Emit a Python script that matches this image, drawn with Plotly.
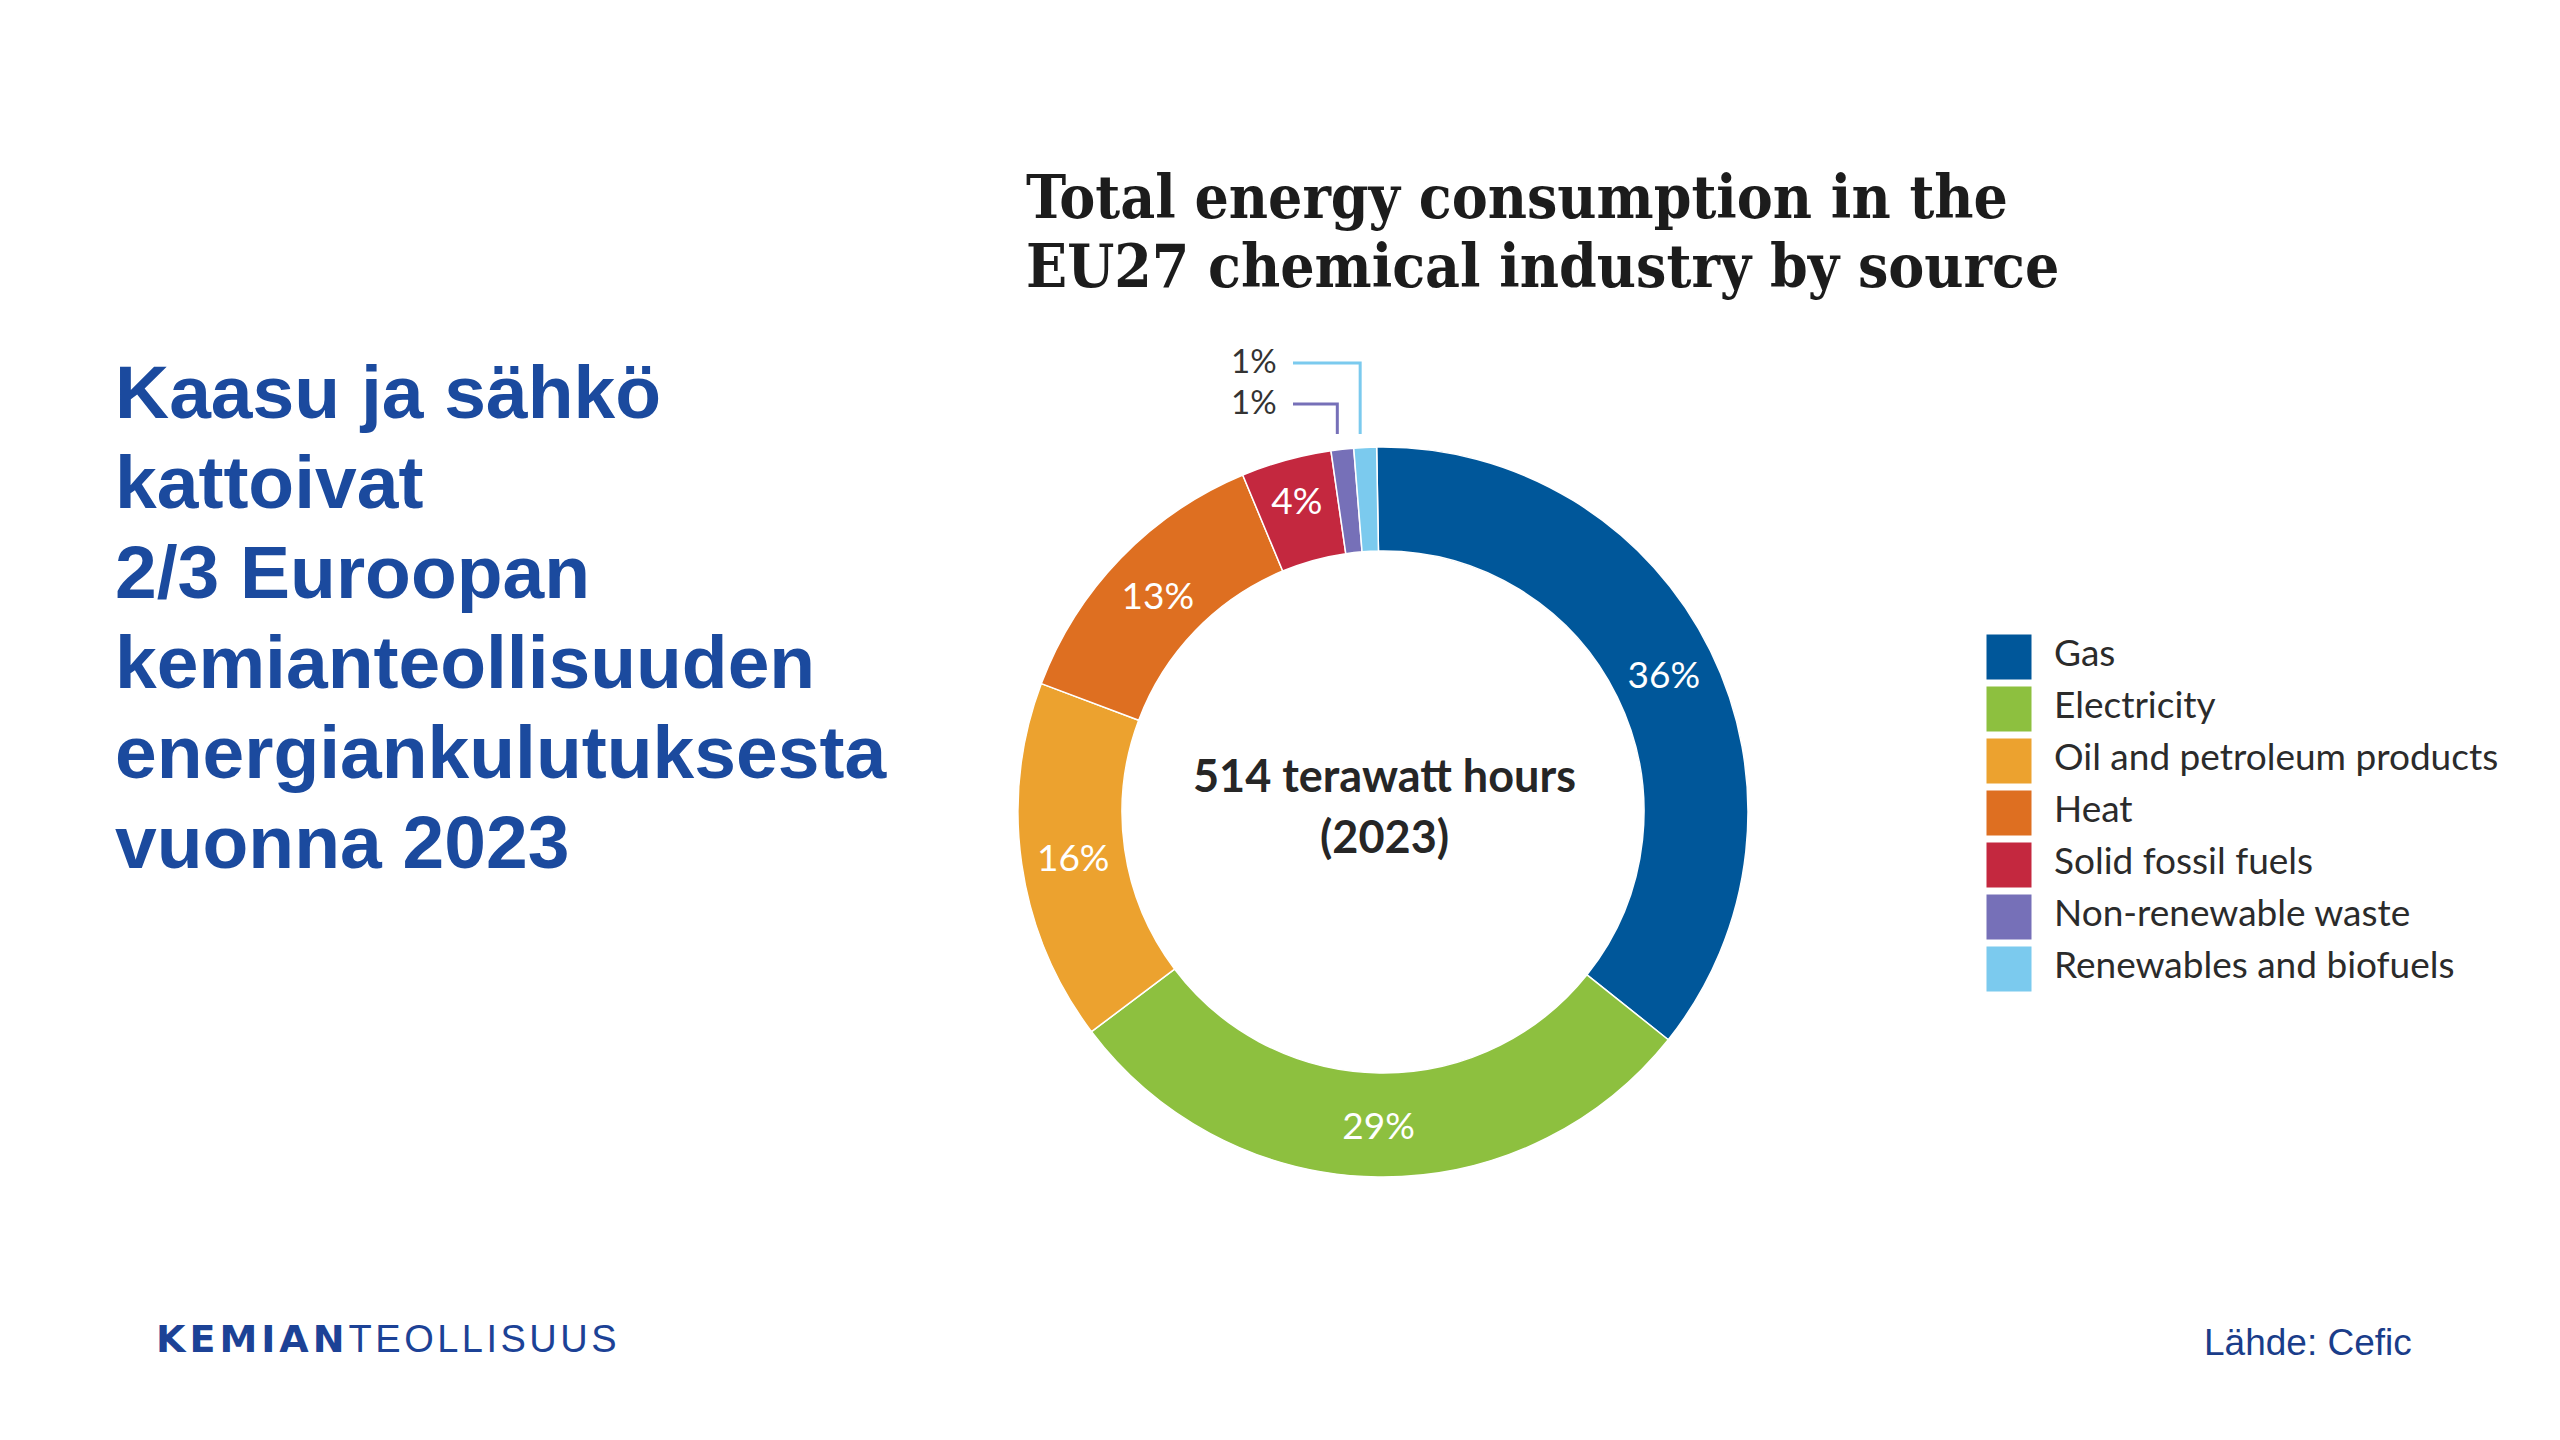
import math
import plotly.graph_objects as go

# ---------------- data ----------------
labels = ["Gas", "Electricity", "Oil and petroleum products", "Heat",
          "Solid fossil fuels", "Non-renewable waste", "Renewables and biofuels"]
shares = [36, 29, 16, 13, 4, 1, 1]
colors = ["#00579A", "#8DC03F", "#ECA22F", "#DE6F21", "#C4283F", "#7670B8", "#7BCAEE"]
center_line1 = "514 terawatt hours"
center_line2 = "(2023)"
chart_title = ["Total energy consumption in the", "EU27 chemical industry by source"]
headline = ["Kaasu ja sähkö", "kattoivat", "2/3 Euroopan", "kemianteollisuuden",
            "energiankulutuksesta", "vuonna 2023"]
source_text = "Lähde: Cefic"

# ---------------- layout constants (px) ----------------
W, H = 2560, 1440
CX, CY, R = 1383, 812, 365
HOLE = 0.715
ROT = -1


def px(x):
    return x / W


def py(y):
    return 1 - y / H


fig = go.Figure()

inside_text = [f"{v}%" if v >= 2 else "" for v in shares]

fig.add_trace(go.Pie(
    labels=labels, values=shares, sort=False, direction="clockwise", rotation=ROT,
    hole=HOLE, marker=dict(colors=colors, line=dict(color="white", width=1.5)),
    text=inside_text, textinfo="text", textposition="inside",
    insidetextorientation="horizontal",
    insidetextfont=dict(family="Lato", size=37, color="white"),
    domain=dict(x=[px(CX - R), px(CX + R)], y=[py(CY + R), py(CY - R)]),
    showlegend=False, hoverinfo="label+percent",
))

# legend drawn as square markers on a hidden category axis
fig.add_trace(go.Scatter(
    x=[0] * len(labels), y=labels, mode="markers",
    marker=dict(symbol="square", size=45, color=colors, line=dict(width=0)),
    xaxis="x2", yaxis="y2", showlegend=False, cliponaxis=False, hoverinfo="skip",
))
fig.add_trace(go.Scatter(
    x=[1] * len(labels), y=labels, mode="text", text=labels,
    textposition="middle right",
    textfont=dict(family="Lato", size=37, color="#2B2B2B"),
    xaxis="x2", yaxis="y2", showlegend=False, cliponaxis=False, hoverinfo="skip",
))

LEG_X0, LEG_TXT = 2009, 2054
LEG_TOP, LEG_ROW = 631, 52

# ---------------- annotations ----------------
ann = []
# chart title: one text block, tight leading (line step = 1.3 x base size)
TITLE_SIZE = 60
TITLE_STEP = 69
title_html = "<br>".join(f'<span style="font-size:{TITLE_SIZE}px"><b>{t}</b></span>'
                         for t in chart_title)
ann.append(dict(x=px(1024), y=py(232), xref="paper", yref="paper",
                xanchor="left", yanchor="middle", showarrow=False, align="left",
                text=title_html,
                font=dict(family="DejaVu Serif Condensed, Liberation Serif",
                          size=TITLE_STEP / 1.3, color="#1C1C1C")))
# headline text on the left
for i, line in enumerate(headline):
    ann.append(dict(x=px(113), y=py(392 + 90 * i), xref="paper", yref="paper",
                    xanchor="left", yanchor="middle", showarrow=False, text=f"<b>{line}</b>",
                    font=dict(family="Liberation Sans", size=75, color="#1B4A9E")))
# centre text
for i, line in enumerate([center_line1, center_line2]):
    ann.append(dict(x=px(CX + 1), y=py(775 + 61 * i), xref="paper", yref="paper",
                    xanchor="center", yanchor="middle", showarrow=False, text=f"<b>{line}</b>",
                    font=dict(family="Lato", size=45, color="#262626")))
# source
ann.append(dict(x=px(2202), y=py(1342), xref="paper", yref="paper", xanchor="left",
                yanchor="middle", showarrow=False, text=source_text,
                font=dict(family="Liberation Sans", size=37, color="#1A3D8A")))
# logo text
ann.append(dict(x=px(154), y=py(1339), xref="paper", yref="paper", xanchor="left",
                yanchor="middle", showarrow=False,
                text='<span style="font-family:DejaVu Sans;font-weight:bold;letter-spacing:4px">KEMIAN</span>'
                     '<span style="letter-spacing:3.5px">TEOLLISUUS</span>',
                font=dict(family="Liberation Sans", size=38, color="#1C4296")))

# callouts for the tiny slices, positioned from the slice angles
shapes = []
total = sum(shares)
cum = 0
mids = []
for v in shares:
    start = ROT + cum / total * 360
    mids.append(start + v / total * 180)
    cum += v
small = [i for i, v in enumerate(shares) if v < 2]
levels = {small[-1]: 363, small[0]: 404} if len(small) == 2 else {}
for i in small:
    ang = math.radians(mids[i])
    xv = CX + R * math.sin(ang) - 5
    lvl = levels.get(i, 404)
    path = f"M {px(xv)},{py(CY - R - 13)} L {px(xv)},{py(lvl)} L {px(1293)},{py(lvl)}"
    shapes.append(dict(type="path", path=path, xref="paper", yref="paper",
                       line=dict(color=colors[i], width=3)))
    ann.append(dict(x=px(1279), y=py(lvl - 3), xref="paper", yref="paper",
                    xanchor="right", yanchor="middle", showarrow=False, text=f"{shares[i]}%",
                    font=dict(family="Lato", size=33, color="#333333")))

fig.update_layout(
    width=W, height=H, margin=dict(l=0, r=0, t=0, b=0),
    paper_bgcolor="white", plot_bgcolor="white",
    annotations=ann, shapes=shapes,
    xaxis2=dict(domain=[px(LEG_X0), px(LEG_TXT)], range=[0, 1], visible=False,
                anchor="y2", fixedrange=True),
    yaxis2=dict(domain=[py(LEG_TOP + LEG_ROW * len(labels)), py(LEG_TOP)],
                type="category", categoryarray=labels,
                range=[len(labels) - 0.5, -0.5], visible=False, anchor="x2", fixedrange=True),
)

fig.write_html("out.html", config={"displayModeBar": False},
               post_script="document.body.style.margin='0';")
